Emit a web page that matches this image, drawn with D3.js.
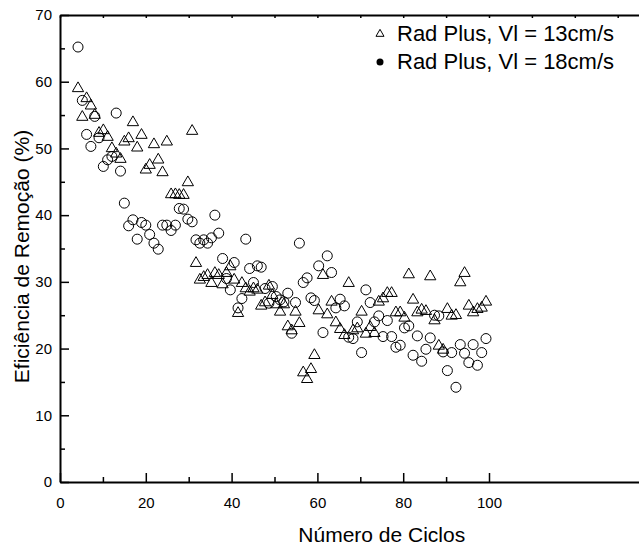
<!DOCTYPE html>
<html>
<head>
<meta charset="utf-8">
<script src="https://cdn.jsdelivr.net/npm/d3@7"></script>
<style>
  body { margin: 0; background: #fff; }
  svg { display: block; font-family: "Liberation Sans", Arial, sans-serif; }
</style>
</head>
<body>
<div id="chart"></div>
<script>
// posicao x de cada ponto
const ciclos = [
  4.2, 5.2, 6.2, 7.2, 8.1, 9.1, 10.1, 11.1, 12.1, 13.1,
  14.1, 15.0, 16.0, 17.0, 18.0, 19.0, 20.0, 20.9, 21.9, 22.9,
  23.9, 24.9, 25.9, 26.9, 27.8, 28.8, 29.8, 30.8, 31.7, 32.6,
  33.5, 34.4, 35.3, 36.1, 37.0, 37.9, 38.8, 39.7, 40.6, 41.5,
  42.4, 43.3, 44.2, 45.1, 46.0, 46.9, 47.8, 48.7, 49.5, 50.4,
  51.3, 52.2, 53.1, 54.0, 54.9, 55.8, 56.7, 57.6, 58.5, 59.3,
  60.3, 61.3, 62.3, 63.3, 64.3, 65.3, 66.3, 67.3, 68.3, 69.3,
  70.3, 71.3, 72.3, 73.3, 74.3, 75.3, 76.3, 77.3, 78.3, 79.3,
  80.3, 81.3, 82.3, 83.3, 84.3, 85.3, 86.3, 87.3, 88.3, 89.3,
  90.3, 91.3, 92.3, 93.3, 94.3, 95.3, 96.3, 97.3, 98.3, 99.3
];

// Rad Plus, Vl = 13cm/s (triangulos)
const vl13 = [
  59.0, 54.7, 57.5, 56.4, 55.0, 52.3, 52.7, 51.7, 50.0, 49.2,
  48.4, 51.0, 51.5, 53.9, 50.1, 52.0, 46.8, 47.5, 50.6, 48.3,
  46.4, 51.0, 43.1, 43.1, 43.0, 43.0, 44.9, 52.6, 32.8, 30.3,
  30.7, 31.0, 29.8, 31.3, 31.0, 29.6, 31.3, 32.3, 30.3, 25.3,
  29.8, 29.0, 28.5, 29.0, 28.8, 26.4, 26.9, 29.4, 28.0, 26.6,
  25.5, 26.6, 23.3, 22.7, 25.5, 23.8, 16.4, 15.4, 16.9, 19.0,
  25.7, 31.0, 25.1, 27.0, 23.9, 22.9, 22.0, 29.8, 22.7, 23.0,
  25.5, 22.2, 23.2, 22.3, 27.0, 27.5, 28.3, 28.3, 25.4, 25.4,
  24.6, 31.1, 27.3, 25.4, 25.8, 25.6, 30.8, 24.2, 20.4, 19.8,
  25.9, 24.9, 25.0, 29.9, 31.3, 26.4, 25.4, 25.9, 26.1, 27.0
];

// Rad Plus, Vl = 18cm/s (circulos)
const vl18 = [
  65.2, 57.2, 52.1, 50.3, 54.8, 51.6, 47.3, 48.3, 48.8, 55.3,
  46.6, 41.8, 38.4, 39.3, 36.4, 38.9, 38.5, 37.1, 35.8, 34.9,
  38.5, 38.5, 37.7, 38.5, 41.0, 40.9, 39.4, 39.0, 36.3, 35.8,
  36.3, 35.8, 36.6, 40.0, 37.3, 33.5, 30.5, 28.8, 32.9, 26.1,
  27.5, 36.4, 32.0, 29.9, 32.4, 32.2, 29.0, 26.8, 29.3, 27.8,
  27.3, 27.0, 28.3, 22.3, 26.9, 35.8, 29.9, 30.6, 27.6, 27.2,
  32.4, 22.4, 33.9, 31.4, 26.1, 27.4, 26.4, 21.7, 21.5, 24.0,
  19.4, 28.8, 26.9, 24.0, 24.9, 21.8, 24.2, 21.8, 20.2, 20.5,
  23.1, 23.4, 19.0, 21.9, 18.1, 19.9, 21.6, 25.0, 24.9, 19.5,
  16.7, 19.4, 14.2, 20.6, 19.3, 17.9, 20.6, 17.5, 19.4, 21.5
];

const xTicks = [0, 20, 40, 60, 80, 100];
const xMinor = [10, 30, 50, 70, 90];
const yTicks = [0, 10, 20, 30, 40, 50, 60, 70];
const yMinor = [5, 15, 25, 35, 45, 55, 65];
const legendLabels = ["Rad Plus, Vl = 13cm/s", "Rad Plus, Vl = 18cm/s"];

const width = 639, height = 546;
const mLeft = 60, mTop = 15, mBottom = 482;

const xScale = d3.scaleLinear().domain([0, 150]).range([mLeft, mLeft + 150 * 4.29]);
const yScale = d3.scaleLinear().domain([0, 70]).range([mBottom, mTop]);

const svg = d3.select("#chart").append("svg")
  .attr("width", width)
  .attr("height", height);

// eixo x (ticks para dentro)
const xAxis = d3.axisBottom(xScale)
  .tickValues(xTicks)
  .tickSizeInner(-9)
  .tickSizeOuter(0)
  .tickPadding(15)
  .tickFormat(d3.format("d"));

const gx = svg.append("g")
  .attr("transform", "translate(0," + mBottom + ")")
  .call(xAxis);

gx.selectAll(".tick line").attr("stroke-width", 1.5);
gx.selectAll("text").attr("font-size", 15).attr("fill", "#000");
gx.select(".domain").attr("stroke-width", 2);

// minor x
svg.append("g")
  .attr("transform", "translate(0," + mBottom + ")")
  .call(d3.axisBottom(xScale).tickValues(xMinor).tickSize(-5).tickFormat(""))
  .call(g => g.select(".domain").remove())
  .selectAll("line").attr("stroke-width", 1.5);

// eixo y
const yAxis = d3.axisLeft(yScale)
  .tickValues(yTicks)
  .tickSizeInner(-9)
  .tickSizeOuter(0)
  .tickPadding(8);

const gy = svg.append("g")
  .attr("transform", "translate(" + mLeft + ",0)")
  .call(yAxis);
gy.selectAll(".tick line").attr("stroke-width", 1.5);
gy.selectAll("text").attr("font-size", 15).attr("fill", "#000");
gy.select(".domain").attr("stroke-width", 2);

svg.append("g")
  .attr("transform", "translate(" + mLeft + ",0)")
  .call(d3.axisLeft(yScale).tickValues(yMinor).tickSize(-5).tickFormat(""))
  .call(g => g.select(".domain").remove())
  .selectAll("line").attr("stroke-width", 1.5);

// borda superior
svg.append("g")
  .attr("transform", "translate(0," + mTop + ")")
  .call(d3.axisTop(xScale).tickValues(d3.range(0, 151, 10)).tickSize(-3).tickSizeOuter(0).tickFormat(""))
  .call(g => g.select(".domain").attr("stroke-width", 2))
  .selectAll("line").attr("stroke-width", 1.5);

// pontos
const triangle = d3.symbol().type(d3.symbolTriangle).size(55);

svg.append("g")
  .selectAll("circle")
  .data(vl18)
  .join("circle")
  .attr("cx", (d, i) => xScale(ciclos[i]))
  .attr("cy", d => yScale(d))
  .attr("r", 5)
  .attr("fill", "none")
  .attr("stroke", "#000")
  .attr("stroke-width", 1);

svg.append("g")
  .selectAll("path")
  .data(vl13)
  .join("path")
  .attr("d", triangle)
  .attr("transform", (d, i) => "translate(" + xScale(ciclos[i]) + "," + yScale(d) + ")")
  .attr("fill", "none")
  .attr("stroke", "#000")
  .attr("stroke-width", 1);

// titulos
svg.append("text")
  .attr("x", xScale(75))
  .attr("y", 542)
  .attr("text-anchor", "middle")
  .attr("font-size", 21)
  .text("Número de Ciclos");

svg.append("text")
  .attr("transform", "translate(29," + ((mTop + mBottom) / 2 + 8) + ") rotate(-90)")
  .attr("text-anchor", "middle")
  .attr("font-size", 21)
  .text("Eficiência de Remoção (%)");

// legenda
const leg = svg.append("g");
leg.append("path")
  .attr("d", d3.symbol().type(d3.symbolTriangle).size(28))
  .attr("transform", "translate(380,34)")
  .attr("fill", "none")
  .attr("stroke", "#000");
leg.append("circle")
  .attr("cx", 380).attr("cy", 62).attr("r", 3.5)
  .attr("fill", "#000");
leg.selectAll("text")
  .data(legendLabels)
  .join("text")
  .attr("x", 397)
  .attr("y", (d, i) => 41 + i * 28)
  .attr("font-size", 22)
  .text(d => d);
</script>
</body>
</html>
